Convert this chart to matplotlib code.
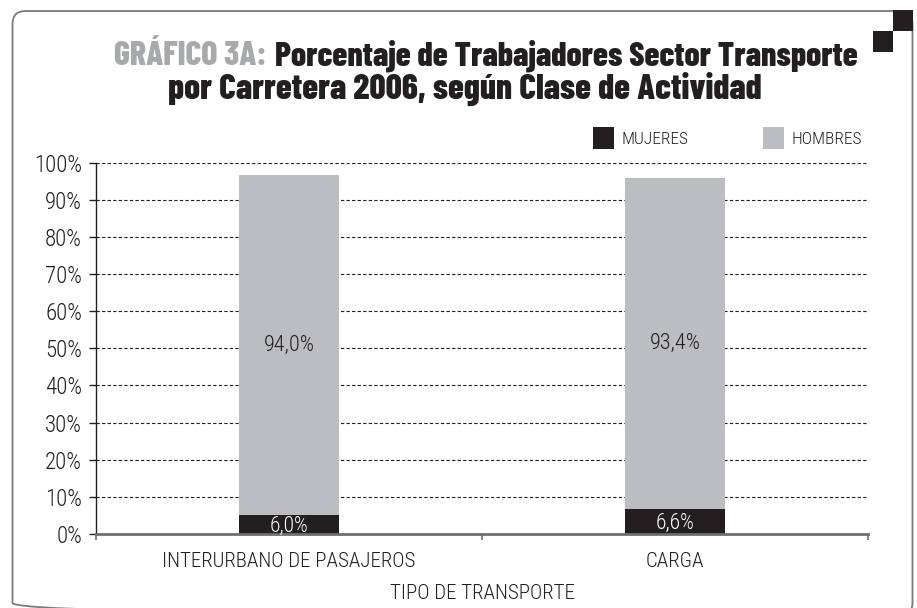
import matplotlib
matplotlib.use('Agg')
import matplotlib.pyplot as plt
from matplotlib.patches import FancyBboxPatch, Rectangle, Patch
import numpy as np

# datos (alturas, etiquetas tal como aparecen)
categorias = ['INTERURBANO DE PASAJEROS', 'CARGA']
mujeres = [5.1, 6.7]
hombres = [91.6, 89.1]
etiq_mujeres = ['6,0%', '6,6%']
etiq_hombres = ['94,0%', '93,4%']
yticks = np.arange(0, 101, 10)

NEGRO = '#231f20'
GRIS = '#bcbdc0'
GRIS_TIT = '#a7a9ac'
FONT = ['Roboto Condensed', 'DejaVu Sans']
FONT_TIT = ['Barlow Condensed', 'Roboto Condensed', 'DejaVu Sans']

W, H = 917, 608
fig = plt.figure(figsize=(W / 100, H / 100), dpi=100)

# fondo en pixeles (marco redondeado + cuadros negros)
bg = fig.add_axes([0, 0, 1, 1], zorder=0)
bg.set_xlim(0, W)
bg.set_ylim(H, 0)
bg.axis('off')
bg.add_patch(FancyBboxPatch((12.5, 11), 900, 605, boxstyle='round,pad=0,rounding_size=13',
                            facecolor='none', edgecolor='#7a7a7a', lw=1.3))
bg.add_patch(Rectangle((893, 10), 20, 21, facecolor=NEGRO, edgecolor='none'))
bg.add_patch(Rectangle((873, 31), 20, 21, facecolor=NEGRO, edgecolor='none'))

# titulo
fig.canvas.draw()
r = fig.canvas.get_renderer()
tkw = dict(fontsize=24.3, fontweight=800, family=FONT_TIT, va='baseline', ha='left')
ta = bg.text(0, 65, 'GRÁFICO 3A:', color=GRIS_TIT, **tkw)
tb = bg.text(0, 65, 'Porcentaje de Trabajadores Sector Transporte', color=NEGRO, **tkw)
wa = ta.get_window_extent(r).width
wb = tb.get_window_extent(r).width
gap = 8
x0 = 486 - (wa + gap + wb) / 2
ta.set_x(x0)
tb.set_x(x0 + wa + gap)
bg.text(465, 99, 'por Carretera 2006, según Clase de Actividad', color=NEGRO,
        fontsize=25.5, fontweight=800, family=FONT_TIT, va='baseline', ha='center')

# grafico
ax = fig.add_axes([96 / W, 1 - 534 / H, (868 - 96) / W, (534 - 162.7) / H], zorder=1)
ax.patch.set_alpha(0)
x = np.arange(len(categorias)) + 0.5
ax.bar(x, mujeres, width=0.26, color=NEGRO, label='MUJERES', zorder=2)
ax.bar(x, hombres, width=0.26, bottom=mujeres, color=GRIS, label='HOMBRES', zorder=2)

for i in range(len(categorias)):
    ax.text(x[i], mujeres[i] / 2 - 0.4, etiq_mujeres[i], color='white', ha='center', va='center',
            fontsize=15.5, family=FONT, fontweight='light', zorder=3)
    ax.text(x[i], mujeres[i] + hombres[i] / 2, etiq_hombres[i], color=NEGRO, ha='center',
            va='center', fontsize=16, family=FONT, fontweight='light', zorder=3)

ax.set_xlim(0, 2)
ax.set_ylim(0, 100)
ax.set_yticks(yticks)
ax.set_yticklabels(['%d%%' % v for v in yticks])
ax.yaxis.grid(True, linestyle=(0, (3, 2)), color=NEGRO, lw=0.8, zorder=1)
ax.set_axisbelow(True)

ax.set_xticks([0, 1, 2])
ax.set_xticklabels([])
ax.set_xticks(x, minor=True)
ax.set_xticklabels(categorias, minor=True)
ax.tick_params(axis='x', which='major', length=4, width=1.2, color='#6d6e71', direction='out')
ax.tick_params(axis='x', which='minor', length=0, pad=13)
ax.tick_params(axis='y', length=5, width=1, color=NEGRO, direction='out', pad=5)
for lab in ax.get_xticklabels(minor=True) + ax.get_yticklabels():
    lab.set_family(FONT)
    lab.set_fontweight('light')
    lab.set_color(NEGRO)
for lab in ax.get_xticklabels(minor=True):
    lab.set_fontsize(15)
for lab in ax.get_yticklabels():
    lab.set_fontsize(16.5)

ax.spines['top'].set_visible(False)
ax.spines['right'].set_visible(False)
ax.spines['left'].set_color(NEGRO)
ax.spines['left'].set_linewidth(1)
ax.spines['bottom'].set_color('#6d6e71')
ax.spines['bottom'].set_linewidth(2)

ax.set_xlabel('TIPO DE TRANSPORTE', fontsize=15, family=FONT, fontweight='light',
              color=NEGRO, labelpad=9)

leg = ax.legend(handles=[Patch(facecolor=NEGRO, label='MUJERES'),
                         Patch(facecolor=GRIS, label='HOMBRES')],
                loc='center left', bbox_to_anchor=(593 / W, 1 - 138 / H),
                bbox_transform=fig.transFigure, ncol=2, frameon=False,
                handlelength=1.2, handleheight=1.5, handletextpad=0.45,
                columnspacing=4.3, borderpad=0, borderaxespad=0,
                prop={'family': FONT, 'size': 12.5, 'weight': 'light'})
for t in leg.get_texts():
    t.set_color(NEGRO)

fig.savefig('out.png', dpi=100)
